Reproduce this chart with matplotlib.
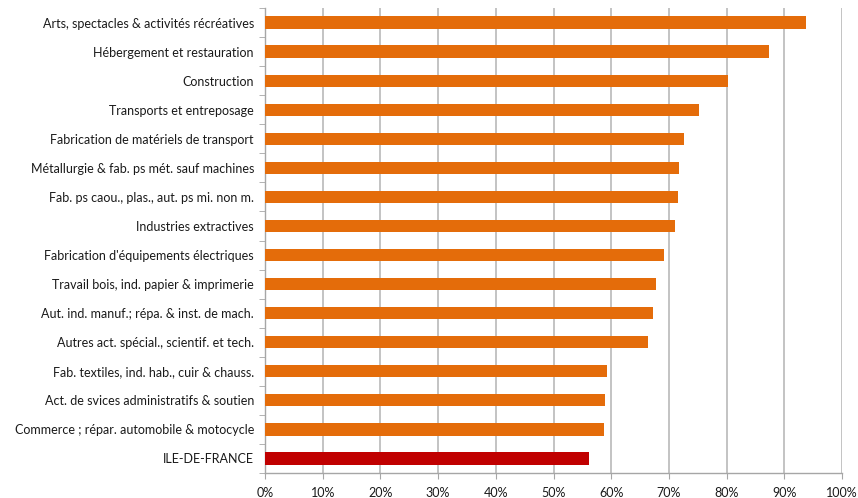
import matplotlib
matplotlib.use('Agg')
import matplotlib.pyplot as plt
import matplotlib.ticker as mticker
import numpy as np

plt.rcParams['font.family'] = ['Lato', 'DejaVu Sans']

# categories, top to bottom
sectors = [
    "Arts, spectacles & activités récréatives",
    "Hébergement et restauration",
    "Construction",
    "Transports et entreposage",
    "Fabrication de matériels de transport",
    "Métallurgie & fab. ps mét. sauf machines",
    "Fab. ps caou., plas., aut. ps mi. non m.",
    "Industries extractives",
    "Fabrication d'équipements électriques",
    "Travail bois, ind. papier & imprimerie",
    "Aut. ind. manuf.; répa. & inst. de mach.",
    "Autres act. spécial., scientif. et tech.",
    "Fab. textiles, ind. hab., cuir & chauss.",
    "Act. de svices administratifs & soutien",
    "Commerce ; répar. automobile & motocycle",
    "ILE-DE-FRANCE",
]
shares = [0.937, 0.874, 0.803, 0.753, 0.726, 0.717, 0.715, 0.711,
          0.692, 0.678, 0.672, 0.664, 0.593, 0.590, 0.588, 0.561]

STYLE = {
    'orange': '#E46C0A',
    'red':    '#C00000',
    'grid':   '#b3b3b3',
    'axis':   '#a6a6a6',
    'text':   '#1a1a1a',
}

colors = [STYLE['red'] if s == "ILE-DE-FRANCE" else STYLE['orange'] for s in sectors]
pos = np.arange(len(sectors))

fig = plt.figure(figsize=(8.58, 4.98), dpi=100)
ax = fig.add_axes([265 / 858, 25 / 498, 577 / 858, 465 / 498])

ax.barh(pos, shares, height=0.42, color=colors, zorder=3)

ax.set_xlim(0, 1)
ax.set_ylim(len(sectors) - 0.5, -0.5)
ax.xaxis.set_major_locator(mticker.MultipleLocator(0.1))
ax.xaxis.set_major_formatter(mticker.PercentFormatter(1.0, decimals=0))
ax.grid(axis='x', color=STYLE['grid'], linewidth=1.1, zorder=0)

ax.set_yticks(pos)
ax.set_yticklabels(sectors)
ax.set_yticks(np.arange(len(sectors) + 1) - 0.5, minor=True)
ax.tick_params(axis='y', which='major', length=0, pad=8, labelsize=9.0, colors=STYLE['text'])
ax.tick_params(axis='y', which='minor', length=4, direction='out', color=STYLE['axis'])
ax.tick_params(axis='x', length=4, color=STYLE['axis'], labelsize=9.0,
               labelcolor=STYLE['text'], pad=6)

for side in ('top', 'right'):
    ax.spines[side].set_visible(False)
for side in ('left', 'bottom'):
    ax.spines[side].set_color(STYLE['axis'])
    ax.spines[side].set_linewidth(1)

fig.savefig('out.png', dpi=100)
